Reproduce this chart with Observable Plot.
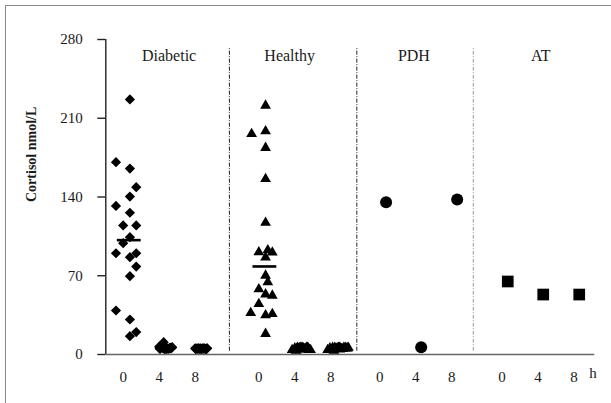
<!DOCTYPE html>
<html><head><meta charset="utf-8">
<script src="https://cdn.jsdelivr.net/npm/d3@7"></script>
<script src="https://cdn.jsdelivr.net/npm/@observablehq/plot@0.6"></script>
<style>
html,body{margin:0;padding:0;background:#fff;}
#wrap{position:relative;width:611px;height:403px;overflow:hidden;background:#fff;}
#frame{position:absolute;left:5px;top:5px;width:700px;height:500px;border:1px solid #8a8a8a;}
#chart{position:absolute;left:0;top:0;}
#chart svg, #chart svg text{font-family:"Liberation Serif","Times New Roman",serif !important;}
</style></head><body>
<div id="wrap"><div id="frame"></div><div id="chart"></div></div>
<script>
// ---- data ----
const groups = ["Diabetic", "Healthy", "PDH", "AT"];
const groupBase = [0, 15.07, 28.51, 42.1];      // hour-axis position of each panel's "0"
const timeLabels = [0, 4, 8];
const yTicks = [0, 70, 140, 210, 280];
const separatorX = [11.8, 25.96, 38.9];
const panelLabelX = [5.1, 18.5, 32.3, 46.4];
const hLabelX = 52.2;

const diabetic0 = [226.7, 171, 165.3, 148.7, 140.4, 132.1, 126, 114.7, 114.7, 104.3, 99, 90, 90, 86.5, 78.2, 69.6, 39.1, 31.1, 19.9, 16.3];
const diabetic0Jit = [0.75, -0.8, 0.75, 1.45, 0.75, -0.8, 0.75, 0, 1.45, 0.75, 0, -0.8, 1.45, 0.75, 1.45, 0.75, -0.8, 0.75, 1.45, 0.75];
const diabetic4 = [11, 7, 6.5, 6, 6, 6, 5.5, 5.5, 5.5, 5, 5, 5, 6, 6.5, 5, 5.5, 6, 5, 5.5, 6];
const diabetic4Jit = [0.5, 0, 1.45, 0.2, 0.4, 0.75, 0.9, 1.1, 1.3, 0.1, 0.6, 1.0, 1.2, 0.3, 0.8, 0.45, 1.4, 0.65, 0.05, 1.25];
const diabetic8 = [5.5, 5, 5.5, 5, 5.5, 5, 5.5, 5, 5.5, 5, 5.5, 5, 5, 5.5, 5, 5.5, 5, 5.5, 5, 5.5];
const diabetic8Jit = [0, 0.1, 0.2, 0.3, 0.4, 0.5, 0.6, 0.7, 0.8, 0.9, 1.0, 1.1, 1.2, 1.3, 0.05, 0.35, 0.65, 0.95, 1.25, 1.33];

const healthy0 = [221.3, 198.5, 196.1, 183.7, 156.1, 117.2, 91, 92.8, 90.8, 86.3, 70.2, 64.3, 58, 53.5, 52.4, 45, 37, 35, 36.1, 18.4];
const healthy0Jit = [0.75, 0.75, -0.8, 0.75, 0.75, 0.75, 0, 1.0, 1.5, 0.75, 0.75, 1.0, 0, 0.75, 1.5, 0, -0.9, 0.75, 1.5, 0.75];
const healthy4 = [4, 5.5, 6, 5.5, 6, 6, 5, 6, 5.5, 4, 3.5, 5, 6, 5.5, 4.5, 5, 6, 4, 5, 4.5];
const healthy4Jit = [-0.3, 0, 0.3, 0.5, 0.7, 0.9, 1.1, 1.3, 1.5, 1.75, 0.15, 0.4, 0.6, 0.8, 1.0, 1.2, 1.4, 1.6, 0.2, 0.95];
const healthy8 = [4, 5.5, 6, 6, 5.5, 6, 5, 6, 5.5, 6, 4, 3.5, 5, 6, 5.5, 5, 6, 5.5, 4, 4.5];
const healthy8Jit = [-0.35, -0.1, 0.2, 0.45, 0.7, 0.95, 1.2, 1.45, 1.7, 1.95, 0.1, 0.35, 0.6, 0.85, 1.1, 1.35, 1.6, 1.85, 0.0, 1.0];

const pdhValues = [135.4, 6.5, 137.8];
const pdhJit = [0.7, 0.6, 0.6];
const atValues = [64.9, 53.3, 53.3];
const atJit = [0.63, 0.57, 0.57];

// ---- build tables ----
const rows = [];
function add(gi, t, vals, jit) {
  vals.forEach((v, i) => rows.push({group: groups[gi], time: t, value: v, x: groupBase[gi] + t + jit[i]}));
}
add(0, 0, diabetic0, diabetic0Jit); add(0, 4, diabetic4, diabetic4Jit); add(0, 8, diabetic8, diabetic8Jit);
add(1, 0, healthy0, healthy0Jit); add(1, 4, healthy4, healthy4Jit); add(1, 8, healthy8, healthy8Jit);
pdhValues.forEach((v, i) => rows.push({group: "PDH", time: timeLabels[i], value: v, x: groupBase[2] + timeLabels[i] + pdhJit[i]}));
atValues.forEach((v, i) => rows.push({group: "AT", time: timeLabels[i], value: v, x: groupBase[3] + timeLabels[i] + atJit[i]}));

const medians = [
  {x: groupBase[0], y: d3.median(diabetic0)},
  {x: groupBase[1], y: d3.median(healthy0)}
];
const xTicks = groupBase.flatMap(b => timeLabels.map(t => ({pos: b + t, label: String(t)})));
const xDomain = [-1.93, 52.4];

const font = "Liberation Serif";
const byGroup = g => rows.filter(d => d.group === g);

const chart = Plot.plot({
  width: 611, height: 403,
  marginLeft: 105.3, marginRight: 16.7, marginTop: 39, marginBottom: 49,
  style: {background: "transparent", color: "#1a1a1a"},
  x: {domain: xDomain, axis: null},
  y: {domain: [0, 280]},
  marks: [
    Plot.ruleX(separatorX.slice(0, 2), {y1: 3, y2: 272, stroke: "#222", strokeWidth: 1, strokeDasharray: "4,1.5,1,1.5"}),
    Plot.ruleX(separatorX.slice(2), {y1: 3, y2: 272, stroke: "#999", strokeWidth: 1, strokeDasharray: "4,1.5,1,1.5"}),
    Plot.ruleY([0], {stroke: "#666", strokeWidth: 1.6}),
    Plot.ruleX([xDomain[0]], {y1: 0, y2: 280, stroke: "#222", strokeWidth: 1.4}),
    Plot.axisY({ticks: yTicks, tickSize: 8, tickPadding: 15, fontSize: 15, fontFamily: font, label: null, stroke: "#222", strokeWidth: 1.4, fill: "#1a1a1a"}),
    Plot.text(["Cortisol nmol/L"], {frameAnchor: "left", dx: -74.6, dy: 5, rotate: -90, fontWeight: "bold", fontSize: 14, fontFamily: font, fill: "#1a1a1a"}),
    Plot.text(xTicks, {x: "pos", text: "label", frameAnchor: "bottom", lineAnchor: "top", dy: 17, fontSize: 15, fontFamily: font, fill: "#1a1a1a"}),
    Plot.text(["h"], {x: () => hLabelX, frameAnchor: "bottom", lineAnchor: "top", dy: 13, fontSize: 15, fontFamily: font, fill: "#1a1a1a"}),
    Plot.text(groups, {x: (d, i) => panelLabelX[i], frameAnchor: "top", dy: 10.5, fontSize: 16, fontFamily: font, fill: "#1a1a1a"}),
    Plot.dot(byGroup("Diabetic"), {x: "x", y: "value", symbol: "diamond2", r: 4.6, fill: "#000", stroke: "none"}),
    Plot.dot(byGroup("Healthy"), {x: "x", y: "value", symbol: "triangle", r: 4, fill: "#000", stroke: "none"}),
    Plot.dot(byGroup("PDH"), {x: "x", y: "value", symbol: "circle", r: 6, fill: "#000", stroke: "none"}),
    Plot.dot(byGroup("AT"), {x: "x", y: "value", symbol: "square", r: 6.6, fill: "#000", stroke: "none"}),
    Plot.ruleY(medians, {y: "y", x1: d => d.x - 0.65, x2: d => d.x + 2.0, stroke: "#000", strokeWidth: 2.6})
  ]
});
document.getElementById("chart").appendChild(chart);
</script></body></html>
